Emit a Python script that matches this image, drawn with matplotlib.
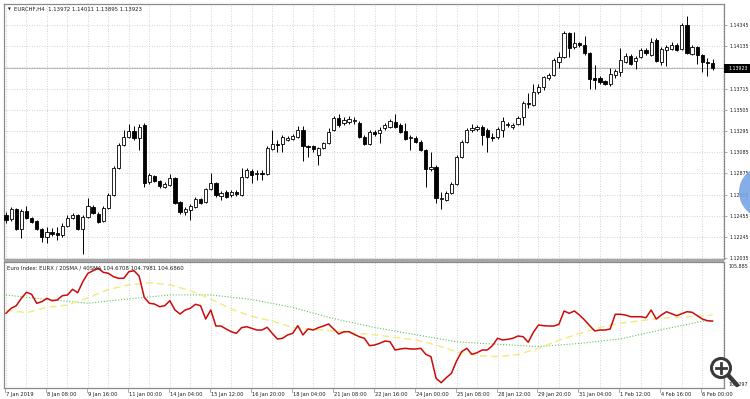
import matplotlib
matplotlib.use("Agg")
import matplotlib.pyplot as plt
import numpy as np
from matplotlib.patches import Circle, Rectangle
from matplotlib.lines import Line2D
from matplotlib.transforms import IdentityTransform

# ---------------- data ----------------
opens = [1.12463,1.12424,1.12523,1.12325,1.12503,1.12434,1.12404,1.12325,1.12245,1.12295,
         1.12285,1.12265,1.12354,1.12434,1.12463,1.12325,1.12444,1.12543,1.12473,1.12404,
         1.12533,1.12662,1.12929,1.13157,1.13236,1.13296,1.13226,1.13355,1.12790,1.12850,
         1.12800,1.12741,1.12761,1.12830,1.12592,1.12493,1.12513,1.12543,1.12622,1.12592,
         1.12721,1.12781,1.12652,1.12691,1.12662,1.12691,1.12662,1.12840,1.12899,1.12870,
         1.12880,1.12870,1.13118,1.13167,1.13167,1.13207,1.13216,1.13236,1.13306,1.13147,
         1.13147,1.13058,1.13127,1.13177,1.13306,1.13425,1.13375,1.13385,1.13395,1.13375,
         1.13236,1.13167,1.13286,1.13276,1.13326,1.13335,1.13385,1.13355,1.13296,1.13226,
         1.13226,1.13187,1.13108,1.12919,1.12939,1.12622,1.12612,1.12681,1.12771,1.13038,
         1.13187,1.13306,1.13316,1.13335,1.13306,1.13236,1.13236,1.13306,1.13355,1.13335,
         1.13365,1.13435,1.13573,1.13553,1.13682,1.13732,1.13821,1.13851,1.13980,1.14029,
         1.14267,1.14128,1.14168,1.14148,1.14069,1.13821,1.13821,1.13791,1.13762,1.13851,
         1.13881,1.13980,1.14039,1.13990,1.14029,1.14099,1.14049,1.14198,1.13980,1.14099,
         1.14108,1.14148,1.14108,1.14346,1.14059,1.14128,1.14049,1.13980,1.13972]
highs = [1.12493,1.12543,1.12533,1.12523,1.12553,1.12444,1.12414,1.12335,1.12344,1.12335,
         1.12344,1.12384,1.12463,1.12483,1.12473,1.12463,1.12632,1.12563,1.12493,1.12553,
         1.12681,1.12949,1.13177,1.13306,1.13365,1.13345,1.13365,1.13375,1.12880,1.12860,
         1.12810,1.12790,1.12870,1.12840,1.12602,1.12543,1.12572,1.12642,1.12632,1.12731,
         1.12880,1.12790,1.12701,1.12711,1.12711,1.12711,1.12929,1.12929,1.12919,1.12909,
         1.12909,1.13147,1.13306,1.13207,1.13256,1.13246,1.13266,1.13345,1.13345,1.13157,
         1.13157,1.13137,1.13187,1.13326,1.13444,1.13464,1.13435,1.13444,1.13435,1.13395,
         1.13256,1.13306,1.13306,1.13335,1.13375,1.13415,1.13464,1.13375,1.13375,1.13256,
         1.13246,1.13207,1.13118,1.13088,1.12959,1.12691,1.12701,1.12790,1.13058,1.13207,
         1.13326,1.13365,1.13355,1.13355,1.13326,1.13276,1.13335,1.13435,1.13385,1.13375,
         1.13444,1.13593,1.13672,1.13762,1.13762,1.13841,1.13871,1.14019,1.14079,1.14287,
         1.14277,1.14277,1.14178,1.14237,1.14079,1.13950,1.13841,1.13801,1.13920,1.13910,
         1.14118,1.14069,1.14059,1.14039,1.14118,1.14118,1.14217,1.14217,1.14128,1.14148,
         1.14178,1.14168,1.14366,1.14435,1.14148,1.14138,1.14059,1.14019,1.14011]
lows = [1.12384,1.12404,1.12315,1.12235,1.12424,1.12384,1.12315,1.12196,1.12186,1.12255,
        1.12216,1.12245,1.12344,1.12424,1.12315,1.12077,1.12434,1.12473,1.12384,1.12394,
        1.12523,1.12652,1.12919,1.13147,1.13226,1.13207,1.13108,1.12741,1.12771,1.12790,
        1.12731,1.12731,1.12751,1.12572,1.12473,1.12463,1.12414,1.12533,1.12572,1.12582,
        1.12711,1.12642,1.12612,1.12632,1.12642,1.12652,1.12652,1.12830,1.12781,1.12810,
        1.12810,1.12860,1.13108,1.13088,1.13088,1.13197,1.13207,1.13226,1.12999,1.13038,
        1.13088,1.12959,1.13118,1.13167,1.13296,1.13335,1.13355,1.13365,1.13365,1.13226,
        1.13157,1.13157,1.13246,1.13177,1.13306,1.13326,1.13326,1.13276,1.13207,1.13108,
        1.13177,1.13098,1.12741,1.12899,1.12582,1.12523,1.12602,1.12671,1.12761,1.13028,
        1.13177,1.13286,1.13296,1.13157,1.13088,1.13197,1.13216,1.13236,1.13335,1.13316,
        1.13355,1.13355,1.13524,1.13544,1.13662,1.13702,1.13801,1.13841,1.13920,1.14019,
        1.14029,1.14108,1.14128,1.14049,1.13712,1.13712,1.13762,1.13752,1.13742,1.13821,
        1.13841,1.13970,1.13950,1.13910,1.14019,1.14049,1.14039,1.13980,1.13950,1.13940,
        1.14099,1.14089,1.14099,1.14059,1.14049,1.13960,1.13881,1.13841,1.13895]
closes = [1.12414,1.12523,1.12325,1.12503,1.12434,1.12394,1.12325,1.12245,1.12295,1.12275,
          1.12265,1.12354,1.12434,1.12463,1.12325,1.12444,1.12553,1.12483,1.12394,1.12533,
          1.12662,1.12929,1.13157,1.13236,1.13296,1.13226,1.13335,1.12781,1.12860,1.12800,
          1.12751,1.12771,1.12830,1.12582,1.12493,1.12523,1.12553,1.12622,1.12582,1.12721,
          1.12781,1.12662,1.12681,1.12642,1.12691,1.12671,1.12840,1.12909,1.12860,1.12880,
          1.12870,1.13127,1.13167,1.13157,1.13236,1.13226,1.13246,1.13306,1.13147,1.13137,
          1.13118,1.13127,1.13177,1.13286,1.13425,1.13355,1.13405,1.13415,1.13405,1.13236,
          1.13167,1.13286,1.13266,1.13306,1.13355,1.13395,1.13335,1.13286,1.13216,1.13236,
          1.13187,1.13108,1.12919,1.12939,1.12632,1.12632,1.12681,1.12771,1.13038,1.13187,
          1.13306,1.13326,1.13335,1.13256,1.13236,1.13226,1.13316,1.13395,1.13365,1.13355,
          1.13425,1.13573,1.13563,1.13682,1.13732,1.13831,1.13851,1.13999,1.14029,1.14267,
          1.14118,1.14168,1.14148,1.14069,1.13811,1.13801,1.13781,1.13762,1.13861,1.13890,
          1.13999,1.14039,1.13960,1.14019,1.14099,1.14069,1.14178,1.13990,1.14108,1.14128,
          1.14148,1.14099,1.14346,1.14069,1.14128,1.14049,1.13980,1.13970,1.13923]

eurx = [104.831,104.934,104.987,105.139,105.263,105.222,105.037,105.070,105.139,105.090,
        105.104,105.193,105.207,105.324,105.254,105.480,105.653,105.706,105.756,105.673,
        105.653,105.583,105.550,105.550,105.686,105.706,105.597,105.160,105.037,105.022,
        104.967,104.987,105.090,104.899,104.817,104.899,104.934,105.016,104.987,104.714,
        104.899,104.570,104.570,104.509,104.453,104.420,104.536,104.556,
        104.523,104.488,104.488,104.544,104.420,104.303,104.318,104.386,104.420,104.577,
        104.386,104.509,104.488,104.536,104.570,104.612,104.509,104.406,104.453,104.453,
        104.400,104.351,104.318,104.166,104.180,104.215,104.262,104.248,104.077,104.098,
        104.112,104.098,104.098,104.112,103.989,103.940,103.496,103.406,103.509,103.599,
        103.852,104.043,104.112,103.989,104.022,104.077,104.077,104.166,104.318,
        104.283,104.297,104.318,104.365,104.351,104.236,104.441,104.591,104.577,104.570,
        104.570,104.605,104.879,104.831,104.879,104.796,104.694,104.577,104.468,104.488,
        104.488,104.509,104.811,104.811,104.796,104.761,104.761,104.761,104.741,104.899,
        104.714,104.796,104.864,104.823,104.782,104.823,104.864,104.852,104.782,104.714,
        104.679,104.6708]

sma20_bars = [0,4,8,12,16,20,24,28,32,36,40,44,48,52,56,60,64,72,80,84,88,92,96,100,
              104,108,112,116,120,128,136,138]
sma20 = [104.899,104.844,104.952,105.002,105.150,105.320,105.417,105.458,105.417,105.298,
         105.127,104.920,104.766,104.673,104.540,104.499,104.468,104.390,104.285,104.180,
         104.040,103.965,103.942,103.985,104.112,104.277,104.416,104.540,104.628,104.731,
         104.776,104.7981]
sma40_bars = [0,8,16,24,32,40,48,56,64,72,80,88,96,104,112,120,128,136,138]
sma40 = [105.207,105.115,105.039,105.127,105.209,105.209,105.115,104.952,104.722,104.540,
         104.392,104.246,104.195,104.147,104.213,104.305,104.494,104.667,104.686]

time_label_bars = [0,8,16,24,32,40,48,56,64,72,80,88,96,104,112,120,128,136]
time_labels = ["7 Jan 2019","8 Jan 08:00","9 Jan 16:00","11 Jan 00:00","14 Jan 04:00",
               "15 Jan 12:00","16 Jan 20:00","18 Jan 04:00","21 Jan 08:00","22 Jan 16:00",
               "24 Jan 00:00","25 Jan 08:00","28 Jan 12:00","29 Jan 20:00","31 Jan 04:00",
               "1 Feb 12:00","4 Feb 16:00","6 Feb 00:00"]
grid_levels = [1.12035,1.12245,1.12455,1.12665,1.12875,1.13085,1.13295,1.13505,1.13715,
               1.13925,1.14135,1.14345]
price_ticks = [1.12035,1.12245,1.12455,1.12665,1.12875,1.13085,1.13295,1.13505,1.13715,
               1.14135,1.14345]
price_labels = ["1.12035","1.12245","1.12455","1.12665","1.12875","1.13085","1.13295",
                "1.13505","1.13715","1.14135","1.14345"]
last_price = 1.13923
title_main = "EURCHF,H4  1.13972 1.14011 1.13895 1.13923"
title_ind = "Euro Index: EURX / 20SMA / 40SMA 104.6708 104.7981 104.6860"
ind_max, ind_min = 105.885, 103.297

# ---------------- layout ----------------
W, H = 750, 399
fig = plt.figure(figsize=(W / 100, H / 100), dpi=100)
fig.patch.set_facecolor("white")
plt.rcParams["font.family"] = ["DejaVu Sans"]

def fx(px): return px / W
def fy(py): return 1 - py / H

L, R = 4, 724
MT, MB = 4, 259
IT, IB = 262, 388
BAR0, STEP = 6.0, 5.12
xlo = (L - BAR0) / STEP
xhi = (R - BAR0) / STEP
AX_FS = 3.45

ax = fig.add_axes([fx(L), fy(MB), (R - L) / W, (MB - MT) / H])
ax2 = fig.add_axes([fx(L), fy(IB), (R - L) / W, (IB - IT) / H])

spine_c = "#8a8a8a"
grid_c = "#c4c4c4"
txt_c = "#1e1e1e"
for a in (ax, ax2):
    a.set_xlim(xlo, xhi)
    a.set_facecolor("white")
    for s in a.spines.values():
        s.set_color(spine_c)
        s.set_linewidth(0.9)
    a.set_xticks([])
    for i in range(0, 141, 4):
        a.axvline(i, color=grid_c, lw=0.6, ls=(0, (1, 2)), zorder=0)

ax.set_ylim(1.12027, 1.14554)
ax2.set_ylim(ind_min, ind_max)
for lv in grid_levels:
    ax.axhline(lv, color=grid_c, lw=0.6, ls=(0, (1, 2)), zorder=0)

# bid line
ax.axhline(last_price, color="#b8b8b8", lw=0.7, zorder=1)

# candles
o = np.array(opens); h = np.array(highs); l = np.array(lows); c = np.array(closes)
x = np.arange(len(c))
up = c >= o
ax.vlines(x, l, h, color="black", lw=0.7, zorder=2)
bb = np.minimum(o, c)
bh = np.maximum(np.abs(c - o), 0.00003)
ax.bar(x[up], bh[up], bottom=bb[up], width=0.62, color="white", edgecolor="black",
       linewidth=0.6, zorder=3)
ax.bar(x[~up], bh[~up], bottom=bb[~up], width=0.62, color="black", edgecolor="black",
       linewidth=0.6, zorder=3)

# price axis
ax.yaxis.tick_right()
ax.set_yticks(price_ticks)
ax.set_yticklabels(price_labels)
ax.tick_params(axis="y", length=2.2, width=0.5, pad=1.6, labelsize=AX_FS,
               colors=spine_c, labelcolor=txt_c)
ax2.set_yticks([])

# current price box
fig.add_artist(Rectangle((fx(724), fy(72.8)), fx(26), 9.2 / H, transform=fig.transFigure,
                         facecolor="black", edgecolor="none", zorder=5))
fig.text(fx(728), fy(68.3), "1.13923", color="white", fontsize=AX_FS, va="center",
         ha="left", zorder=6)

# indicator lines
ax2.plot(sma40_bars, sma40, color="#5cc45c", lw=0.8, ls=(0, (1, 1.6)), zorder=2)
ax2.plot(sma20_bars, sma20, color="#f0ec7c", lw=1.0, ls=(0, (5, 3)), zorder=2)
ax2.plot(x, eurx, color="#cc0a0a", lw=1.1, zorder=3)

# titles
fig.text(fx(7.5), fy(9.5), "\u25BC", fontsize=2.6, color=txt_c, va="center", ha="left")
fig.text(fx(14), fy(9.5), title_main, fontsize=3.9, color=txt_c, va="center", ha="left")
fig.text(fx(7), fy(268), title_ind, fontsize=3.9, color=txt_c, va="center", ha="left")
fig.text(fx(728), fy(266.5), f"{ind_max:.3f}", fontsize=AX_FS, color=txt_c, va="center", ha="left")
fig.text(fx(728), fy(385), f"{ind_min:.3f}", fontsize=AX_FS, color=txt_c, va="center", ha="left")

# separator between panes
fig.add_artist(Rectangle((fx(L), fy(262)), (R - L) / W, 3 / H, transform=fig.transFigure,
                         facecolor="#a6a6a6", edgecolor="none", zorder=4))

# time axis labels and ticks
for b, lab in zip(time_label_bars, time_labels):
    px = BAR0 + STEP * b
    fig.add_artist(Line2D([fx(px - 1), fx(px - 1)], [fy(388), fy(391.5)],
                          transform=fig.transFigure, color=spine_c, lw=0.5))
    fig.text(fx(px), fy(394.5), lab, fontsize=3.7, color=txt_c, va="center", ha="left")

# UI overlays: blue bubble and zoom icon
fig.add_artist(Circle((765, H - 192), 26, transform=IdentityTransform(),
                      facecolor="#78a4e4", edgecolor="none", alpha=0.9, zorder=7))
fig.add_artist(Line2D([728, 737], [H - 375, H - 385], transform=IdentityTransform(),
                      color="#3a3a3a", lw=3.2, solid_capstyle="round", zorder=8))
fig.add_artist(Circle((721, H - 368), 9.5, transform=IdentityTransform(),
                      facecolor="white", edgecolor="#3a3a3a", lw=2.2, zorder=9))
fig.add_artist(Line2D([716, 726], [H - 368, H - 368], transform=IdentityTransform(),
                      color="#3a3a3a", lw=2.0, zorder=10))
fig.add_artist(Line2D([721, 721], [H - 363, H - 373], transform=IdentityTransform(),
                      color="#3a3a3a", lw=2.0, zorder=10))

fig.savefig("out.png", dpi=100, facecolor="white")
